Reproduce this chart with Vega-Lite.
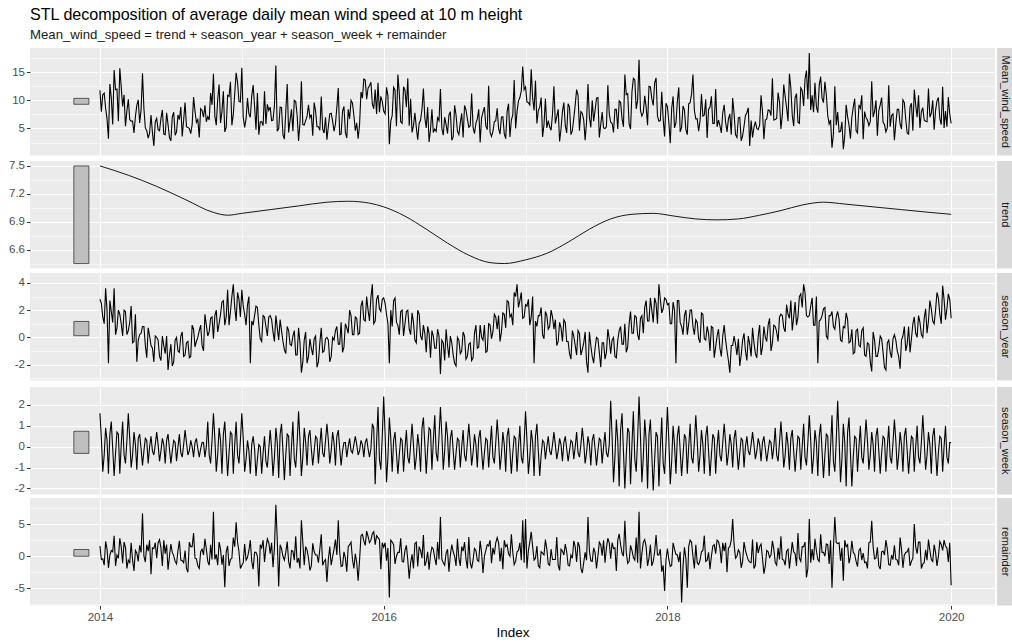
{
"$schema":"https://vega.github.io/schema/vega-lite/v6.json",
"padding":{"left":4,"right":0,"top":6,"bottom":0},
"title":{"text":"STL decomposition of average daily mean wind speed at 10 m height","subtitle":"Mean_wind_speed = trend + season_year + season_week + remainder","anchor":"start","frame":"group","fontSize":16.1,"fontWeight":"normal","subtitleFontSize":13.2,"color":"#000000","subtitleColor":"#1A1A1A","subtitlePadding":6,"offset":7,"font":"Liberation Sans","subtitleFont":"Liberation Sans"},
"datasets":{
"trend":[{"t":2014,"d":7.5},{"t":2014.2,"d":7.4},{"t":2014.4,"d":7.28},{"t":2014.6,"d":7.14},{"t":2014.8,"d":7.0},{"t":2014.9,"d":6.97},{"t":2015,"d":6.99},{"t":2015.2,"d":7.03},{"t":2015.4,"d":7.07},{"t":2015.6,"d":7.11},{"t":2015.75,"d":7.12},{"t":2015.9,"d":7.1},{"t":2016,"d":7.06},{"t":2016.15,"d":6.96},{"t":2016.3,"d":6.82},{"t":2016.45,"d":6.67},{"t":2016.6,"d":6.54},{"t":2016.75,"d":6.46},{"t":2016.85,"d":6.45},{"t":2017,"d":6.49},{"t":2017.15,"d":6.56},{"t":2017.3,"d":6.68},{"t":2017.45,"d":6.82},{"t":2017.6,"d":6.93},{"t":2017.75,"d":6.98},{"t":2017.9,"d":6.99},{"t":2018.05,"d":6.96},{"t":2018.2,"d":6.93},{"t":2018.35,"d":6.92},{"t":2018.5,"d":6.93},{"t":2018.65,"d":6.97},{"t":2018.8,"d":7.02},{"t":2018.95,"d":7.08},{"t":2019.1,"d":7.11},{"t":2019.25,"d":7.09},{"t":2019.45,"d":7.06},{"t":2019.65,"d":7.03},{"t":2019.85,"d":7.0},{"t":2020,"d":6.98}],
"ts":[
{"t":2014,"m":11.8,"s":2.8,"w":1.6,"r":1.6},{"t":2014.02,"m":11.0,"s":1.5,"w":-1.2,"r":-0.4},{"t":2014.04,"m":8.6,"s":3.6,"w":0.9,"r":2.3},{"t":2014.06,"m":3.2,"s":-1.9,"w":-1.3,"r":-1.8},{"t":2014.08,"m":10.4,"s":1.9,"w":1.2,"r":0.9},{"t":2014.1,"m":15.4,"s":3.6,"w":-1.4,"r":3.2},{"t":2014.12,"m":12.0,"s":0.7,"w":0.7,"r":0.2},{"t":2014.14,"m":15.7,"s":1.7,"w":-1.3,"r":2.8},{"t":2014.16,"m":8.9,"s":0.1,"w":1.2,"r":-1.1},{"t":2014.18,"m":5.4,"s":1.9,"w":-0.8,"r":1.4},
{"t":2014.2,"m":10.2,"s":0.5,"w":1.6,"r":-0.6},{"t":2014.22,"m":6.3,"s":2.3,"w":-1.0,"r":2.1},{"t":2014.24,"m":4.2,"s":-0.3,"w":0.7,"r":-2.3},{"t":2014.26,"m":9.1,"s":-1.8,"w":-1.1,"r":0.5},{"t":2014.28,"m":6.0,"s":0.2,"w":0.6,"r":1.7},{"t":2014.3,"m":14.8,"s":0.8,"w":-0.9,"r":6.7},{"t":2014.32,"m":5.1,"s":-0.6,"w":0.4,"r":-0.9},{"t":2014.34,"m":3.3,"s":0.7,"w":-0.8,"r":0.8},{"t":2014.36,"m":7.4,"s":-0.6,"w":0.5,"r":-2.8},{"t":2014.38,"m":1.9,"s":-1.8,"w":-0.4,"r":1.2},
{"t":2014.4,"m":6.8,"s":0.0,"w":0.7,"r":-0.3},{"t":2014.42,"m":4.6,"s":-1.4,"w":-0.7,"r":2.6},{"t":2014.44,"m":8.3,"s":0.1,"w":0.4,"r":-1.5},{"t":2014.46,"m":3.9,"s":-1.2,"w":-0.8,"r":0.4},{"t":2014.48,"m":5.7,"s":-2.4,"w":0.6,"r":-2.1},{"t":2014.5,"m":2.8,"s":-0.5,"w":-0.8,"r":1.9},{"t":2014.52,"m":7.9,"s":-1.8,"w":0.3,"r":0.1},{"t":2014.54,"m":4.4,"s":0.0,"w":-0.7,"r":-1.2},{"t":2014.56,"m":6.6,"s":-1.1,"w":0.6,"r":2.4},{"t":2014.58,"m":3.6,"s":0.4,"w":-0.5,"r":-0.7},
{"t":2014.6,"m":9.6,"s":-1.3,"w":0.8,"r":0.9},{"t":2014.62,"m":5.2,"s":-0.3,"w":-0.4,"r":-2.5},{"t":2014.64,"m":4.1,"s":-1.4,"w":0.3,"r":1.5},{"t":2014.66,"m":10.6,"s":0.6,"w":-0.5,"r":3.6},{"t":2014.68,"m":6.1,"s":-0.3,"w":0.4,"r":-0.4},{"t":2014.7,"m":3.4,"s":0.5,"w":-0.5,"r":-1.9},{"t":2014.72,"m":8.2,"s":-0.6,"w":0.2,"r":1.1},{"t":2014.74,"m":9.1,"s":1.7,"w":-0.5,"r":2.7},{"t":2014.76,"m":7.1,"s":0.1,"w":1.2,"r":-0.8},{"t":2014.78,"m":11.3,"s":1.4,"w":-0.8,"r":1.8},
{"t":2014.8,"m":14.7,"s":-0.1,"w":1.6,"r":6.9},{"t":2014.82,"m":5.6,"s":2.0,"w":-1.2,"r":0.3},{"t":2014.84,"m":12.8,"s":1.0,"w":0.9,"r":2.2},{"t":2014.86,"m":8.0,"s":2.6,"w":-1.3,"r":-1.3},{"t":2014.88,"m":4.4,"s":0.9,"w":1.2,"r":-4.8},{"t":2014.9,"m":10.9,"s":3.5,"w":-1.4,"r":1.6},{"t":2014.92,"m":13.3,"s":1.9,"w":0.7,"r":-0.5},{"t":2014.94,"m":7.5,"s":3.9,"w":-1.3,"r":2.9},{"t":2014.96,"m":14.9,"s":1.2,"w":1.2,"r":5.3},{"t":2014.98,"m":9.8,"s":2.8,"w":-0.8,"r":0.7},
{"t":2015,"m":15.8,"s":3.5,"w":1.6,"r":-1.4},{"t":2015.02,"m":5.2,"s":1.7,"w":-1.2,"r":1.9},{"t":2015.04,"m":10.4,"s":2.4,"w":0.3,"r":-0.2},{"t":2015.06,"m":7.0,"s":-1.9,"w":-1.3,"r":2.5},{"t":2015.08,"m":12.7,"s":0.9,"w":0.5,"r":-2.0},{"t":2015.1,"m":4.8,"s":2.3,"w":-1.4,"r":0.6},{"t":2015.12,"m":3.9,"s":0.9,"w":0.1,"r":-4.7},{"t":2015.14,"m":6.2,"s":-0.3,"w":-1.3,"r":1.3},{"t":2015.16,"m":11.6,"s":1.5,"w":0.5,"r":-0.9},{"t":2015.18,"m":9.3,"s":0.1,"w":-1.0,"r":2.7},
{"t":2015.2,"m":8.8,"s":1.6,"w":0.8,"r":0.4},{"t":2015.22,"m":6.5,"s":0.4,"w":-1.4,"r":-1.7},{"t":2015.24,"m":16.2,"s":1.6,"w":0.9,"r":8.0},{"t":2015.26,"m":5.0,"s":-0.2,"w":-1.5,"r":-4.7},{"t":2015.28,"m":8.7,"s":0.5,"w":1.1,"r":1.2},{"t":2015.3,"m":3.1,"s":-0.9,"w":-1.6,"r":-0.6},{"t":2015.32,"m":12.9,"s":0.8,"w":0.6,"r":2.3},{"t":2015.34,"m":6.4,"s":-0.5,"w":-1.4,"r":-1.9},{"t":2015.36,"m":4.5,"s":0.1,"w":1.2,"r":0.8},{"t":2015.38,"m":9.8,"s":-1.3,"w":-1.0,"r":3.1},
{"t":2015.4,"m":2.8,"s":0.7,"w":1.7,"r":-0.3},{"t":2015.42,"m":13.4,"s":-2.6,"w":-1.4,"r":5.6},{"t":2015.44,"m":5.6,"s":-0.2,"w":0.9,"r":-1.4},{"t":2015.46,"m":7.2,"s":-1.9,"w":-0.9,"r":1.0},{"t":2015.48,"m":6.9,"s":-0.1,"w":0.8,"r":-2.2},{"t":2015.5,"m":3.7,"s":-1.3,"w":-0.9,"r":2.0},{"t":2015.52,"m":8.1,"s":0.1,"w":0.5,"r":0.2},{"t":2015.54,"m":5.3,"s":-1.8,"w":-0.8,"r":-1.0},{"t":2015.56,"m":10.7,"s":0.7,"w":0.9,"r":3.4},{"t":2015.58,"m":4.2,"s":-1.0,"w":-0.5,"r":-0.8},
{"t":2015.6,"m":3.0,"s":0.0,"w":1.1,"r":-4.0},{"t":2015.62,"m":7.6,"s":-1.8,"w":-0.8,"r":1.5},{"t":2015.64,"m":6.3,"s":0.0,"w":0.7,"r":-0.1},{"t":2015.66,"m":5.8,"s":0.5,"w":-0.9,"r":2.6},{"t":2015.68,"m":12.2,"s":-0.5,"w":0.8,"r":5.6},{"t":2015.7,"m":4.0,"s":1.1,"w":-0.9,"r":-1.6},{"t":2015.72,"m":8.9,"s":-0.7,"w":0.2,"r":0.7},{"t":2015.74,"m":3.3,"s":0.7,"w":-0.5,"r":-2.4},{"t":2015.76,"m":6.7,"s":2.0,"w":0.4,"r":1.8},{"t":2015.78,"m":9.5,"s":0.2,"w":-0.3,"r":-0.5},
{"t":2015.8,"m":4.6,"s":1.5,"w":0.5,"r":0.4},{"t":2015.82,"m":3.2,"s":0.2,"w":-0.4,"r":-3.8},{"t":2015.84,"m":11.5,"s":2.3,"w":0.3,"r":3.2},{"t":2015.86,"m":13.8,"s":1.3,"w":-0.5,"r":2.4},{"t":2015.88,"m":10.2,"s":3.0,"w":0.4,"r":3.9},{"t":2015.9,"m":12.6,"s":1.2,"w":-0.5,"r":2.1},{"t":2015.92,"m":9.4,"s":3.9,"w":1.1,"r":3.5},{"t":2015.94,"m":11.9,"s":1.2,"w":-1.8,"r":1.8},{"t":2015.96,"m":13.1,"s":3.1,"w":1.9,"r":2.9},{"t":2015.98,"m":10.7,"s":1.9,"w":-1.1,"r":-2.0},
{"t":2016,"m":8.1,"s":2.9,"w":2.4,"r":1.4},{"t":2016.02,"m":12.3,"s":1.7,"w":-1.7,"r":-0.7},{"t":2016.04,"m":2.2,"s":-1.9,"w":1.4,"r":-6.4},{"t":2016.06,"m":7.3,"s":0.8,"w":-1.2,"r":2.2},{"t":2016.08,"m":11.8,"s":2.9,"w":0.7,"r":-1.2},{"t":2016.1,"m":14.6,"s":0.9,"w":-1.3,"r":0.6},{"t":2016.12,"m":6.2,"s":1.9,"w":0.4,"r":2.8},{"t":2016.14,"m":12.4,"s":0.1,"w":-1.2,"r":-0.9},{"t":2016.16,"m":8.8,"s":1.9,"w":0.8,"r":1.7},{"t":2016.18,"m":5.5,"s":0.6,"w":-0.8,"r":-3.5},
{"t":2016.2,"m":4.3,"s":1.8,"w":1.1,"r":0.3},{"t":2016.22,"m":7.8,"s":-0.2,"w":-1.1,"r":2.0},{"t":2016.24,"m":3.0,"s":2.0,"w":0.6,"r":-1.6},{"t":2016.26,"m":6.5,"s":0.1,"w":-1.2,"r":0.9},{"t":2016.28,"m":12.1,"s":0.9,"w":1.4,"r":3.3},{"t":2016.3,"m":5.1,"s":-1.1,"w":-1.3,"r":-0.8},{"t":2016.32,"m":2.6,"s":0.3,"w":0.9,"r":-2.1},{"t":2016.34,"m":8.4,"s":0.5,"w":-1.1,"r":1.4},{"t":2016.36,"m":4.9,"s":-0.8,"w":1.5,"r":-0.3},{"t":2016.38,"m":6.9,"s":0.6,"w":-0.7,"r":2.2},
{"t":2016.4,"m":12.0,"s":-2.7,"w":1.9,"r":6.1},{"t":2016.42,"m":3.8,"s":-0.4,"w":-1.1,"r":-1.0},{"t":2016.44,"m":5.7,"s":0.6,"w":1.2,"r":0.5},{"t":2016.46,"m":7.4,"s":-1.5,"w":-1.0,"r":-2.4},{"t":2016.48,"m":2.9,"s":-0.4,"w":0.8,"r":1.8},{"t":2016.5,"m":9.1,"s":-1.9,"w":-1.1,"r":0.0},{"t":2016.52,"m":4.5,"s":0.0,"w":0.4,"r":2.7},{"t":2016.54,"m":6.0,"s":-1.2,"w":-1.0,"r":-1.5},{"t":2016.56,"m":3.4,"s":0.4,"w":0.8,"r":0.8},{"t":2016.58,"m":8.3,"s":-1.6,"w":-0.7,"r":-0.4},
{"t":2016.6,"m":5.2,"s":-0.5,"w":1.1,"r":3.0},{"t":2016.62,"m":11.2,"s":-1.7,"w":-0.9,"r":-1.9},{"t":2016.64,"m":4.1,"s":0.3,"w":0.6,"r":1.2},{"t":2016.66,"m":6.7,"s":-0.8,"w":-1.0,"r":-0.6},{"t":2016.68,"m":2.5,"s":0.9,"w":0.8,"r":2.4},{"t":2016.7,"m":7.9,"s":-0.2,"w":-1.1,"r":-2.6},{"t":2016.72,"m":5.4,"s":-1.1,"w":0.4,"r":0.9},{"t":2016.74,"m":12.6,"s":1.0,"w":-1.0,"r":1.6},{"t":2016.76,"m":3.6,"s":-0.1,"w":1.0,"r":-1.1},{"t":2016.78,"m":6.2,"s":1.7,"w":-0.8,"r":0.3},
{"t":2016.8,"m":8.6,"s":0.6,"w":1.3,"r":2.9},{"t":2016.82,"m":4.0,"s":-0.3,"w":-1.1,"r":-0.8},{"t":2016.84,"m":7.1,"s":1.8,"w":0.7,"r":-2.0},{"t":2016.86,"m":3.2,"s":0.7,"w":-1.2,"r":1.5},{"t":2016.88,"m":9.4,"s":2.6,"w":0.9,"r":0.4},{"t":2016.9,"m":6.5,"s":1.7,"w":-1.3,"r":3.4},{"t":2016.92,"m":13.6,"s":3.3,"w":0.5,"r":-1.3},{"t":2016.94,"m":8.0,"s":3.9,"w":-1.2,"r":0.7},{"t":2016.96,"m":10.5,"s":2.7,"w":1.0,"r":2.1},{"t":2016.98,"m":16.0,"s":1.4,"w":-0.8,"r":5.6},
{"t":2017,"m":12.4,"s":2.4,"w":1.7,"r":5.8},{"t":2017.02,"m":9.6,"s":2.8,"w":-1.3,"r":0.9},{"t":2017.04,"m":15.5,"s":1.5,"w":0.8,"r":3.8},{"t":2017.06,"m":8.2,"s":-1.9,"w":-1.4,"r":-0.6},{"t":2017.08,"m":5.9,"s":0.8,"w":1.1,"r":1.6},{"t":2017.1,"m":8.8,"s":1.6,"w":-1.4,"r":-1.8},{"t":2017.12,"m":3.5,"s":0.2,"w":0.3,"r":0.5},{"t":2017.14,"m":10.3,"s":1.9,"w":-0.6,"r":2.6},{"t":2017.16,"m":6.4,"s":0.6,"w":0.5,"r":-1.2},{"t":2017.18,"m":4.7,"s":2.0,"w":-0.4,"r":1.1},
{"t":2017.2,"m":12.5,"s":0.6,"w":0.7,"r":-0.5},{"t":2017.22,"m":7.1,"s":-0.6,"w":-0.6,"r":3.0},{"t":2017.24,"m":2.7,"s":1.1,"w":0.4,"r":-2.2},{"t":2017.26,"m":8.0,"s":-0.3,"w":-0.7,"r":0.8},{"t":2017.28,"m":5.5,"s":1.1,"w":0.5,"r":1.9},{"t":2017.3,"m":9.4,"s":-0.3,"w":-0.7,"r":-1.4},{"t":2017.32,"m":3.9,"s":-1.6,"w":0.3,"r":0.2},{"t":2017.34,"m":6.8,"s":0.1,"w":-0.6,"r":2.4},{"t":2017.36,"m":11.9,"s":-1.3,"w":0.7,"r":-0.9},{"t":2017.38,"m":4.6,"s":0.3,"w":-0.5,"r":1.5},
{"t":2017.4,"m":7.7,"s":-0.9,"w":0.9,"r":-2.6},{"t":2017.42,"m":2.9,"s":0.4,"w":-0.8,"r":0.6},{"t":2017.44,"m":12.9,"s":-2.6,"w":0.5,"r":6.1},{"t":2017.46,"m":5.2,"s":-0.6,"w":-0.9,"r":-0.7},{"t":2017.48,"m":6.3,"s":-1.9,"w":0.6,"r":1.3},{"t":2017.5,"m":10.4,"s":0.0,"w":-0.9,"r":-1.9},{"t":2017.52,"m":3.4,"s":-1.1,"w":0.4,"r":2.2},{"t":2017.54,"m":7.9,"s":-0.4,"w":-0.8,"r":0.1},{"t":2017.56,"m":5.0,"s":-1.6,"w":0.7,"r":-1.0},{"t":2017.58,"m":12.7,"s":0.6,"w":-0.5,"r":2.8},
{"t":2017.6,"m":6.1,"s":-1.2,"w":2.2,"r":-0.4},{"t":2017.62,"m":4.3,"s":0.0,"w":-1.7,"r":1.2},{"t":2017.64,"m":8.4,"s":-1.5,"w":1.3,"r":-2.3},{"t":2017.66,"m":9.9,"s":0.5,"w":-1.9,"r":3.5},{"t":2017.68,"m":6.8,"s":-0.5,"w":1.6,"r":0.5},{"t":2017.7,"m":14.6,"s":1.0,"w":-2.0,"r":5.5},{"t":2017.72,"m":11.2,"s":-0.7,"w":0.9,"r":-1.1},{"t":2017.74,"m":4.9,"s":1.9,"w":-1.8,"r":1.7},{"t":2017.76,"m":13.9,"s":0.3,"w":1.7,"r":-0.2},{"t":2017.78,"m":8.5,"s":1.5,"w":-1.2,"r":2.9},
{"t":2017.8,"m":17.2,"s":-0.2,"w":2.4,"r":6.9},{"t":2017.82,"m":7.2,"s":1.6,"w":-1.7,"r":0.4},{"t":2017.84,"m":10.8,"s":2.2,"w":1.3,"r":2.6},{"t":2017.86,"m":5.6,"s":1.2,"w":-2.0,"r":-1.5},{"t":2017.88,"m":12.4,"s":2.9,"w":1.3,"r":1.8},{"t":2017.9,"m":9.1,"s":1.1,"w":-2.1,"r":-0.8},{"t":2017.92,"m":14.0,"s":2.5,"w":0.7,"r":3.3},{"t":2017.94,"m":6.3,"s":3.9,"w":-1.9,"r":0.2},{"t":2017.96,"m":11.5,"s":1.8,"w":1.4,"r":-2.4},{"t":2017.98,"m":3.6,"s":2.9,"w":-1.3,"r":-5.4},
{"t":2018,"m":8.9,"s":2.4,"w":1.9,"r":1.2},{"t":2018.02,"m":2.4,"s":1.0,"w":-1.8,"r":-1.6},{"t":2018.04,"m":10.7,"s":2.6,"w":1.0,"r":2.1},{"t":2018.06,"m":6.0,"s":-1.9,"w":-1.3,"r":0.3},{"t":2018.08,"m":12.3,"s":2.7,"w":1.0,"r":-0.9},{"t":2018.1,"m":5.2,"s":0.8,"w":-1.4,"r":-7.2},{"t":2018.12,"m":8.3,"s":1.6,"w":0.6,"r":1.4},{"t":2018.14,"m":3.9,"s":0.2,"w":-1.3,"r":-4.9},{"t":2018.16,"m":9.6,"s":2.0,"w":1.1,"r":2.5},{"t":2018.18,"m":14.6,"s":0.8,"w":-0.8,"r":0.0},
{"t":2018.2,"m":6.7,"s":1.3,"w":1.5,"r":1.8},{"t":2018.22,"m":4.5,"s":-0.1,"w":-1.2,"r":-1.3},{"t":2018.24,"m":11.1,"s":1.8,"w":0.8,"r":0.7},{"t":2018.26,"m":7.4,"s":-0.1,"w":-1.3,"r":3.2},{"t":2018.28,"m":3.3,"s":0.8,"w":1.0,"r":-0.6},{"t":2018.3,"m":8.8,"s":-1.0,"w":-1.4,"r":-2.0},{"t":2018.32,"m":5.9,"s":0.7,"w":0.6,"r":1.6},{"t":2018.34,"m":12.0,"s":-0.7,"w":-1.3,"r":0.4},{"t":2018.36,"m":6.5,"s":0.6,"w":0.8,"r":2.3},{"t":2018.38,"m":4.2,"s":-1.4,"w":-0.7,"r":-1.1},
{"t":2018.4,"m":9.2,"s":0.9,"w":1.1,"r":0.8},{"t":2018.42,"m":4.4,"s":-1.0,"w":-0.9,"r":-2.5},{"t":2018.44,"m":7.6,"s":-2.6,"w":0.6,"r":1.5},{"t":2018.46,"m":10.4,"s":-0.6,"w":-1.0,"r":5.8},{"t":2018.48,"m":3.9,"s":-0.5,"w":0.8,"r":-0.3},{"t":2018.5,"m":6.9,"s":-0.1,"w":-1.1,"r":1.0},{"t":2018.52,"m":2.8,"s":-1.3,"w":0.4,"r":-1.8},{"t":2018.54,"m":5.4,"s":0.3,"w":-1.0,"r":2.2},{"t":2018.56,"m":7.8,"s":-1.7,"w":0.5,"r":0.1},{"t":2018.58,"m":1.9,"s":-0.5,"w":-0.4,"r":-0.9},
{"t":2018.6,"m":3.4,"s":0.7,"w":0.7,"r":2.6},{"t":2018.62,"m":6.2,"s":-1.2,"w":-0.6,"r":-1.4},{"t":2018.64,"m":4.8,"s":0.1,"w":0.4,"r":0.5},{"t":2018.66,"m":10.9,"s":-1.3,"w":-0.7,"r":1.9},{"t":2018.68,"m":3.1,"s":0.8,"w":0.5,"r":-2.7},{"t":2018.7,"m":6.7,"s":-0.3,"w":-0.7,"r":0.9},{"t":2018.72,"m":8.2,"s":1.4,"w":0.3,"r":-0.2},{"t":2018.74,"m":13.9,"s":-0.4,"w":-0.6,"r":2.4},{"t":2018.76,"m":6.6,"s":0.8,"w":0.9,"r":-1.0},{"t":2018.78,"m":11.4,"s":-0.3,"w":-0.7,"r":1.3},
{"t":2018.8,"m":4.9,"s":1.7,"w":1.2,"r":3.1},{"t":2018.82,"m":12.8,"s":0.7,"w":-1.0,"r":-0.6},{"t":2018.84,"m":8.7,"s":2.4,"w":0.7,"r":0.8},{"t":2018.86,"m":14.7,"s":1.4,"w":-1.1,"r":-1.9},{"t":2018.88,"m":7.3,"s":0.5,"w":0.8,"r":2.2},{"t":2018.9,"m":10.5,"s":2.6,"w":-1.2,"r":0.4},{"t":2018.92,"m":6.1,"s":1.5,"w":0.5,"r":3.6},{"t":2018.94,"m":12.2,"s":3.2,"w":-1.1,"r":-0.8},{"t":2018.96,"m":9.0,"s":3.9,"w":1.1,"r":1.5},{"t":2018.98,"m":15.3,"s":1.6,"w":-0.9,"r":-3.3},
{"t":2019,"m":18.4,"s":1.6,"w":1.5,"r":5.8},{"t":2019.02,"m":10.9,"s":2.9,"w":-1.3,"r":1.1},{"t":2019.04,"m":13.1,"s":0.9,"w":0.8,"r":2.7},{"t":2019.06,"m":7.8,"s":-1.9,"w":-1.4,"r":-0.5},{"t":2019.08,"m":14.2,"s":1.3,"w":1.1,"r":3.4},{"t":2019.1,"m":9.6,"s":2.1,"w":-1.5,"r":0.6},{"t":2019.12,"m":11.0,"s":0.1,"w":0.6,"r":1.9},{"t":2019.14,"m":5.8,"s":1.6,"w":-1.4,"r":-1.2},{"t":2019.16,"m":1.6,"s":1.9,"w":1.5,"r":-4.9},{"t":2019.18,"m":12.5,"s":0.6,"w":-1.2,"r":6.1},
{"t":2019.2,"m":7.9,"s":1.9,"w":2.2,"r":2.0},{"t":2019.22,"m":4.5,"s":-0.2,"w":-1.7,"r":-0.7},{"t":2019.24,"m":1.3,"s":0.8,"w":1.1,"r":-3.8},{"t":2019.26,"m":9.2,"s":1.8,"w":-1.9,"r":1.5},{"t":2019.28,"m":5.6,"s":-0.4,"w":1.4,"r":-1.1},{"t":2019.3,"m":7.0,"s":0.6,"w":-1.9,"r":2.4},{"t":2019.32,"m":10.3,"s":-1.1,"w":0.5,"r":0.3},{"t":2019.34,"m":4.2,"s":0.6,"w":-1.2,"r":-1.6},{"t":2019.36,"m":8.6,"s":-0.7,"w":1.0,"r":1.2},{"t":2019.38,"m":3.1,"s":0.7,"w":-0.8,"r":0.5},
{"t":2019.4,"m":6.9,"s":-1.4,"w":1.3,"r":-0.9},{"t":2019.42,"m":5.5,"s":-0.5,"w":-1.1,"r":2.1},{"t":2019.44,"m":13.4,"s":-2.5,"w":0.7,"r":5.5},{"t":2019.46,"m":8.0,"s":-0.2,"w":-1.2,"r":-0.4},{"t":2019.48,"m":3.7,"s":-1.4,"w":0.9,"r":1.4},{"t":2019.5,"m":9.2,"s":0.1,"w":-1.3,"r":-2.0},{"t":2019.52,"m":6.1,"s":-1.1,"w":0.5,"r":0.8},{"t":2019.54,"m":4.4,"s":-2.4,"w":-1.2,"r":2.5},{"t":2019.56,"m":12.7,"s":-0.2,"w":1.0,"r":-1.3},{"t":2019.58,"m":7.3,"s":-1.5,"w":-0.8,"r":0.2},
{"t":2019.6,"m":2.9,"s":0.2,"w":1.3,"r":1.7},{"t":2019.62,"m":8.4,"s":-1.0,"w":-1.1,"r":-0.6},{"t":2019.64,"m":5.8,"s":-2.3,"w":0.7,"r":2.9},{"t":2019.66,"m":10.1,"s":0.1,"w":-1.2,"r":-1.8},{"t":2019.68,"m":6.6,"s":-1.0,"w":0.9,"r":0.6},{"t":2019.7,"m":4.0,"s":0.8,"w":-1.3,"r":1.3},{"t":2019.72,"m":9.5,"s":-0.1,"w":0.5,"r":-0.8},{"t":2019.74,"m":11.9,"s":1.5,"w":-1.2,"r":5.0},{"t":2019.76,"m":7.0,"s":0.0,"w":1.0,"r":0.4},{"t":2019.78,"m":5.1,"s":1.1,"w":-0.8,"r":2.2},
{"t":2019.8,"m":8.7,"s":0.0,"w":1.5,"r":-1.2},{"t":2019.82,"m":6.3,"s":2.1,"w":-1.1,"r":1.0},{"t":2019.84,"m":12.1,"s":1.2,"w":0.7,"r":2.6},{"t":2019.86,"m":7.7,"s":2.1,"w":-1.3,"r":-0.5},{"t":2019.88,"m":4.8,"s":1.0,"w":0.9,"r":1.8},{"t":2019.9,"m":9.9,"s":3.3,"w":-1.4,"r":-1.5},{"t":2019.92,"m":6.8,"s":1.7,"w":0.5,"r":2.3},{"t":2019.94,"m":12.4,"s":3.8,"w":-1.2,"r":0.9},{"t":2019.96,"m":8.1,"s":1.3,"w":1.0,"r":1.6},{"t":2019.98,"m":10.6,"s":3.2,"w":-0.8,"r":-0.9},
{"t":2020,"m":5.9,"s":1.4,"w":0.2,"r":-4.5},
{"t":2014.01,"m":8.0,"s":2.5,"w":0.4,"r":-0.5},{"t":2014.03,"m":11.3,"s":1.0,"w":-0.4,"r":-1.4},{"t":2014.05,"m":6.7,"s":2.0,"w":0.3,"r":1.1},{"t":2014.07,"m":12.9,"s":2.7,"w":0.6,"r":0.2},{"t":2014.09,"m":5.7,"s":1.1,"w":-0.1,"r":0.7},{"t":2014.11,"m":11.9,"s":0.2,"w":-0.3,"r":-1.5},{"t":2014.13,"m":6.3,"s":2.0,"w":0.6,"r":-0.3},{"t":2014.15,"m":12.4,"s":1.0,"w":0.1,"r":1.5},{"t":2014.17,"m":11.0,"s":2.0,"w":-0.4,"r":2.2},{"t":2014.19,"m":8.1,"s":0.2,"w":0.3,"r":-1.9},
{"t":2014.21,"m":6.6,"s":1.1,"w":0.4,"r":-1.0},{"t":2014.23,"m":6.3,"s":-0.4,"w":-0.4,"r":-0.6},{"t":2014.25,"m":7.1,"s":1.7,"w":0.1,"r":0.9},{"t":2014.27,"m":10.1,"s":-0.2,"w":0.4,"r":-0.8},{"t":2014.29,"m":8.3,"s":0.3,"w":-0.1,"r":0.6},{"t":2014.31,"m":8.5,"s":0.8,"w":-0.2,"r":0.0},{"t":2014.33,"m":4.6,"s":-1.5,"w":0.3,"r":1.8},{"t":2014.35,"m":4.2,"s":0.1,"w":0.0,"r":2.5},{"t":2014.37,"m":4.3,"s":-0.8,"w":-0.2,"r":1.3},{"t":2014.39,"m":6.2,"s":0.1,"w":0.1,"r":2.1},
{"t":2014.41,"m":4.8,"s":-0.2,"w":0.1,"r":2.1},{"t":2014.43,"m":6.8,"s":-1.7,"w":-0.2,"r":1.3},{"t":2014.45,"m":4.0,"s":-0.6,"w":0.1,"r":2.5},{"t":2014.47,"m":7.8,"s":0.1,"w":0.3,"r":1.8},{"t":2014.49,"m":3.4,"s":-1.3,"w":-0.1,"r":0.0},{"t":2014.51,"m":7.1,"s":-2.1,"w":-0.2,"r":0.6},{"t":2014.53,"m":3.8,"s":-0.2,"w":0.2,"r":-0.8},{"t":2014.55,"m":7.4,"s":-1.0,"w":0.0,"r":0.9},{"t":2014.57,"m":8.8,"s":0.1,"w":-0.3,"r":-0.6},{"t":2014.59,"m":6.5,"s":-1.4,"w":0.1,"r":-1.0},
{"t":2014.61,"m":5.3,"s":-0.4,"w":0.2,"r":-1.9},{"t":2014.63,"m":5.0,"s":-1.5,"w":-0.2,"r":2.2},{"t":2014.65,"m":5.7,"s":0.9,"w":0.0,"r":1.5},{"t":2014.67,"m":8.1,"s":-0.7,"w":0.2,"r":-0.3},{"t":2014.69,"m":6.6,"s":0.0,"w":-0.1,"r":-1.5},{"t":2014.71,"m":8.5,"s":0.9,"w":-0.1,"r":0.7},{"t":2014.73,"m":7.0,"s":-1.0,"w":0.2,"r":0.2},{"t":2014.75,"m":6.2,"s":0.9,"w":0.0,"r":1.1},{"t":2014.77,"m":6.5,"s":0.4,"w":-0.4,"r":-1.4},{"t":2014.79,"m":9.2,"s":1.5,"w":0.3,"r":-0.5},
{"t":2014.81,"m":7.2,"s":1.6,"w":0.4,"r":-0.5},{"t":2014.83,"m":10.2,"s":0.4,"w":-0.4,"r":-1.4},{"t":2014.85,"m":6.0,"s":1.7,"w":0.3,"r":1.1},{"t":2014.87,"m":11.6,"s":2.7,"w":0.6,"r":0.2},{"t":2014.89,"m":5.2,"s":1.5,"w":-0.1,"r":0.7},{"t":2014.91,"m":10.7,"s":0.9,"w":-0.3,"r":-1.5},{"t":2014.93,"m":5.6,"s":3.0,"w":0.6,"r":-0.3},{"t":2014.95,"m":11.2,"s":2.2,"w":0.1,"r":1.5},{"t":2014.97,"m":13.2,"s":3.3,"w":-0.4,"r":2.2},{"t":2014.99,"m":9.7,"s":1.5,"w":0.3,"r":-1.9},
{"t":2015.01,"m":7.0,"s":2.3,"w":0.4,"r":-1.0},{"t":2015.03,"m":6.7,"s":0.9,"w":-0.6,"r":-0.6},{"t":2015.05,"m":7.6,"s":3.0,"w":-0.2,"r":0.9},{"t":2015.07,"m":10.8,"s":1.2,"w":0.1,"r":-0.8},{"t":2015.09,"m":8.9,"s":1.6,"w":-0.1,"r":0.6},{"t":2015.11,"m":11.3,"s":2.2,"w":-0.6,"r":0.0},{"t":2015.13,"m":6.2,"s":-0.1,"w":0.0,"r":1.8},{"t":2015.15,"m":5.5,"s":1.6,"w":-0.3,"r":2.5},{"t":2015.17,"m":5.8,"s":0.8,"w":-0.7,"r":1.3},{"t":2015.19,"m":8.2,"s":1.5,"w":-0.1,"r":2.1},
{"t":2015.21,"m":6.4,"s":1.3,"w":-0.1,"r":2.1},{"t":2015.23,"m":9.1,"s":-0.3,"w":-0.5,"r":1.3},{"t":2015.25,"m":4.5,"s":0.7,"w":0.2,"r":2.5},{"t":2015.27,"m":8.8,"s":1.3,"w":0.6,"r":1.8},{"t":2015.29,"m":3.9,"s":-0.3,"w":-0.2,"r":0.0},{"t":2015.31,"m":8.1,"s":-1.2,"w":-0.4,"r":0.6},{"t":2015.33,"m":4.3,"s":0.5,"w":0.5,"r":-0.8},{"t":2015.35,"m":8.4,"s":-0.6,"w":0.0,"r":0.9},{"t":2015.37,"m":10.0,"s":0.5,"w":-0.6,"r":-0.6},{"t":2015.39,"m":7.3,"s":-1.3,"w":0.2,"r":-1.0},
{"t":2015.41,"m":6.0,"s":-0.4,"w":0.3,"r":-1.9},{"t":2015.43,"m":5.7,"s":-1.8,"w":-0.5,"r":2.2},{"t":2015.45,"m":6.4,"s":0.4,"w":0.2,"r":1.5},{"t":2015.47,"m":9.2,"s":-1.4,"w":0.5,"r":-0.3},{"t":2015.49,"m":7.5,"s":-0.8,"w":-0.1,"r":-1.5},{"t":2015.51,"m":9.6,"s":-0.1,"w":-0.2,"r":0.7},{"t":2015.53,"m":5.3,"s":-2.2,"w":0.4,"r":0.2},{"t":2015.55,"m":4.7,"s":-0.4,"w":0.1,"r":1.1},{"t":2015.57,"m":4.9,"s":-1.1,"w":-0.3,"r":-1.4},{"t":2015.59,"m":7.0,"s":-0.1,"w":0.3,"r":-0.5},
{"t":2015.61,"m":5.4,"s":-0.2,"w":0.3,"r":-0.5},{"t":2015.63,"m":7.7,"s":-1.4,"w":-0.2,"r":-1.4},{"t":2015.65,"m":4.5,"s":-0.2,"w":0.2,"r":1.1},{"t":2015.67,"m":8.8,"s":0.8,"w":0.5,"r":0.2},{"t":2015.69,"m":3.9,"s":-0.5,"w":-0.1,"r":0.7},{"t":2015.71,"m":8.1,"s":-1.1,"w":-0.2,"r":-1.5},{"t":2015.73,"m":4.3,"s":1.0,"w":0.2,"r":-0.3},{"t":2015.75,"m":8.4,"s":0.3,"w":0.0,"r":1.5},{"t":2015.77,"m":10.0,"s":1.6,"w":-0.2,"r":2.2},{"t":2015.79,"m":7.3,"s":0.2,"w":0.1,"r":-1.9},
{"t":2015.81,"m":6.0,"s":1.4,"w":0.1,"r":-1.0},{"t":2015.83,"m":5.7,"s":0.3,"w":-0.2,"r":-0.6},{"t":2015.85,"m":10.4,"s":2.7,"w":0.1,"r":3.4},{"t":2015.87,"m":13.6,"s":1.2,"w":0.2,"r":1.7},{"t":2015.89,"m":12.2,"s":2.0,"w":-0.1,"r":3.1},{"t":2015.91,"m":13.2,"s":2.9,"w":-0.1,"r":2.5},{"t":2015.93,"m":8.5,"s":1.0,"w":0.9,"r":3.8},{"t":2015.95,"m":7.6,"s":2.8,"w":0.2,"r":3.2},{"t":2015.97,"m":7.9,"s":2.1,"w":-0.6,"r":2.6},{"t":2015.99,"m":9.8,"s":2.8,"w":0.5,"r":2.1},
{"t":2016.01,"m":7.6,"s":2.5,"w":0.6,"r":2.1},{"t":2016.03,"m":10.8,"s":1.0,"w":-0.5,"r":1.3},{"t":2016.05,"m":6.3,"s":2.0,"w":0.4,"r":2.5},{"t":2016.07,"m":12.3,"s":2.7,"w":0.3,"r":1.8},{"t":2016.09,"m":5.4,"s":1.1,"w":-0.3,"r":0.0},{"t":2016.11,"m":11.3,"s":0.2,"w":-0.4,"r":0.6},{"t":2016.13,"m":5.9,"s":2.0,"w":0.3,"r":-0.8},{"t":2016.15,"m":11.8,"s":1.0,"w":-0.1,"r":0.9},{"t":2016.17,"m":13.9,"s":2.0,"w":-0.5,"r":-0.6},{"t":2016.19,"m":10.3,"s":0.2,"w":0.1,"r":-1.0},
{"t":2016.21,"m":5.5,"s":1.1,"w":0.1,"r":-1.9},{"t":2016.23,"m":5.2,"s":-0.4,"w":-0.5,"r":2.2},{"t":2016.25,"m":5.9,"s":1.7,"w":0.0,"r":1.5},{"t":2016.27,"m":8.4,"s":-0.2,"w":0.9,"r":-0.3},{"t":2016.29,"m":6.9,"s":0.3,"w":0.1,"r":-1.5},{"t":2016.31,"m":8.8,"s":0.8,"w":-0.1,"r":0.7},{"t":2016.33,"m":4.8,"s":-1.5,"w":0.8,"r":0.2},{"t":2016.35,"m":4.3,"s":0.1,"w":0.3,"r":1.1},{"t":2016.37,"m":4.5,"s":-0.8,"w":-0.3,"r":-1.4},{"t":2016.39,"m":6.4,"s":0.1,"w":0.5,"r":-0.5},
{"t":2016.41,"m":5.0,"s":-0.2,"w":0.6,"r":-0.5},{"t":2016.43,"m":7.0,"s":-1.7,"w":-0.2,"r":-1.4},{"t":2016.45,"m":4.1,"s":-0.6,"w":0.5,"r":1.1},{"t":2016.47,"m":8.0,"s":0.1,"w":0.4,"r":0.2},{"t":2016.49,"m":3.5,"s":-1.3,"w":-0.2,"r":0.7},{"t":2016.51,"m":7.4,"s":-2.1,"w":-0.3,"r":-1.5},{"t":2016.53,"m":3.9,"s":-0.2,"w":0.3,"r":-0.3},{"t":2016.55,"m":7.7,"s":-1.0,"w":0.0,"r":1.5},{"t":2016.57,"m":9.1,"s":0.1,"w":-0.4,"r":2.2},{"t":2016.59,"m":6.7,"s":-1.4,"w":0.2,"r":-1.9},
{"t":2016.61,"m":5.5,"s":-0.4,"w":0.2,"r":-1.0},{"t":2016.63,"m":5.2,"s":-1.5,"w":-0.3,"r":-0.6},{"t":2016.65,"m":5.9,"s":0.9,"w":0.1,"r":0.9},{"t":2016.67,"m":8.4,"s":-0.7,"w":0.4,"r":-0.8},{"t":2016.69,"m":6.9,"s":0.0,"w":-0.2,"r":0.6},{"t":2016.71,"m":8.8,"s":0.9,"w":-0.3,"r":0.0},{"t":2016.73,"m":4.8,"s":-1.0,"w":0.3,"r":1.8},{"t":2016.75,"m":4.3,"s":0.9,"w":0.0,"r":2.5},{"t":2016.77,"m":4.5,"s":0.4,"w":-0.5,"r":1.3},{"t":2016.79,"m":6.4,"s":1.5,"w":0.2,"r":2.1},
{"t":2016.81,"m":5.0,"s":1.6,"w":0.3,"r":2.1},{"t":2016.83,"m":7.0,"s":0.4,"w":-0.4,"r":1.3},{"t":2016.85,"m":4.1,"s":1.7,"w":0.1,"r":2.5},{"t":2016.87,"m":8.0,"s":2.7,"w":0.5,"r":1.8},{"t":2016.89,"m":3.5,"s":1.5,"w":-0.2,"r":0.0},{"t":2016.91,"m":7.4,"s":0.9,"w":-0.3,"r":0.6},{"t":2016.93,"m":5.0,"s":3.0,"w":0.4,"r":-0.8},{"t":2016.95,"m":9.9,"s":2.2,"w":0.0,"r":0.9},{"t":2016.97,"m":11.7,"s":3.3,"w":-0.5,"r":-0.6},{"t":2016.99,"m":11.9,"s":1.5,"w":0.2,"r":-1.0},
{"t":2017.01,"m":9.7,"s":2.3,"w":0.3,"r":-1.9},{"t":2017.03,"m":9.2,"s":0.9,"w":-0.5,"r":2.2},{"t":2017.05,"m":10.4,"s":3.0,"w":0.2,"r":1.5},{"t":2017.07,"m":13.5,"s":1.2,"w":0.5,"r":-0.3},{"t":2017.09,"m":8.2,"s":1.6,"w":-0.2,"r":-1.5},{"t":2017.11,"m":10.5,"s":2.2,"w":-0.4,"r":0.7},{"t":2017.13,"m":5.7,"s":-0.1,"w":0.2,"r":0.2},{"t":2017.15,"m":5.1,"s":1.6,"w":0.0,"r":1.1},{"t":2017.17,"m":5.3,"s":0.8,"w":-0.2,"r":-1.4},{"t":2017.19,"m":7.6,"s":1.5,"w":0.1,"r":-0.5},
{"t":2017.21,"m":5.9,"s":1.3,"w":0.1,"r":-0.5},{"t":2017.23,"m":8.4,"s":-0.3,"w":-0.2,"r":-1.4},{"t":2017.25,"m":4.9,"s":0.7,"w":0.1,"r":1.1},{"t":2017.27,"m":9.6,"s":1.3,"w":0.2,"r":0.2},{"t":2017.29,"m":4.2,"s":-0.3,"w":-0.1,"r":0.7},{"t":2017.31,"m":8.8,"s":-1.2,"w":-0.2,"r":-1.5},{"t":2017.33,"m":4.6,"s":0.5,"w":0.2,"r":-0.3},{"t":2017.35,"m":9.2,"s":-0.6,"w":0.0,"r":1.5},{"t":2017.37,"m":10.9,"s":0.5,"w":-0.3,"r":2.2},{"t":2017.39,"m":8.0,"s":-1.3,"w":0.1,"r":-1.9},
{"t":2017.41,"m":6.5,"s":-0.4,"w":0.2,"r":-1.0},{"t":2017.43,"m":6.2,"s":-1.8,"w":-0.3,"r":-0.6},{"t":2017.45,"m":7.0,"s":0.4,"w":0.1,"r":0.9},{"t":2017.47,"m":10.0,"s":-1.4,"w":0.3,"r":-0.8},{"t":2017.49,"m":8.2,"s":-0.8,"w":-0.1,"r":0.6},{"t":2017.51,"m":10.5,"s":-0.1,"w":-0.2,"r":0.0},{"t":2017.53,"m":5.7,"s":-2.2,"w":0.3,"r":1.8},{"t":2017.55,"m":5.1,"s":-0.4,"w":0.0,"r":2.5},{"t":2017.57,"m":5.3,"s":-1.1,"w":-0.3,"r":1.3},{"t":2017.59,"m":7.6,"s":-0.1,"w":0.1,"r":2.1},
{"t":2017.61,"m":5.9,"s":-0.2,"w":0.5,"r":2.1},{"t":2017.63,"m":8.4,"s":-1.4,"w":-0.5,"r":1.3},{"t":2017.65,"m":4.9,"s":-0.2,"w":0.3,"r":2.5},{"t":2017.67,"m":9.6,"s":0.8,"w":0.8,"r":1.8},{"t":2017.69,"m":5.3,"s":-0.5,"w":-0.2,"r":0.0},{"t":2017.71,"m":11.0,"s":-1.1,"w":-0.4,"r":0.6},{"t":2017.73,"m":5.8,"s":1.0,"w":0.7,"r":-0.8},{"t":2017.75,"m":11.5,"s":0.3,"w":0.1,"r":0.9},{"t":2017.77,"m":13.6,"s":1.6,"w":-0.6,"r":-0.6},{"t":2017.79,"m":10.0,"s":0.2,"w":0.4,"r":-1.0},
{"t":2017.81,"m":8.2,"s":1.4,"w":0.5,"r":-1.9},{"t":2017.83,"m":7.8,"s":0.3,"w":-0.5,"r":2.2},{"t":2017.85,"m":8.8,"s":2.7,"w":0.3,"r":1.5},{"t":2017.87,"m":12.5,"s":1.2,"w":0.6,"r":-0.3},{"t":2017.89,"m":10.3,"s":2.0,"w":-0.4,"r":-1.5},{"t":2017.91,"m":13.1,"s":2.9,"w":-0.6,"r":0.7},{"t":2017.93,"m":7.2,"s":1.0,"w":0.5,"r":0.2},{"t":2017.95,"m":6.4,"s":2.8,"w":-0.1,"r":1.1},{"t":2017.97,"m":6.7,"s":2.1,"w":-0.8,"r":-1.4},{"t":2017.99,"m":9.5,"s":2.8,"w":0.2,"r":-0.5},
{"t":2018.01,"m":6.1,"s":2.5,"w":0.3,"r":-0.5},{"t":2018.03,"m":8.6,"s":1.0,"w":-0.7,"r":-1.4},{"t":2018.05,"m":5.1,"s":2.0,"w":0.1,"r":1.1},{"t":2018.07,"m":9.8,"s":2.7,"w":0.5,"r":0.2},{"t":2018.09,"m":4.4,"s":1.1,"w":-0.2,"r":0.7},{"t":2018.11,"m":9.0,"s":0.2,"w":-0.4,"r":-1.5},{"t":2018.13,"m":4.8,"s":2.0,"w":0.4,"r":-0.3},{"t":2018.15,"m":9.4,"s":1.0,"w":0.0,"r":1.5},{"t":2018.17,"m":11.1,"s":2.0,"w":-0.5,"r":2.2},{"t":2018.19,"m":8.2,"s":0.2,"w":0.2,"r":-1.9},
{"t":2018.21,"m":6.7,"s":1.1,"w":0.3,"r":-1.0},{"t":2018.23,"m":6.4,"s":-0.4,"w":-0.4,"r":-0.6},{"t":2018.25,"m":7.2,"s":1.7,"w":0.1,"r":0.9},{"t":2018.27,"m":10.2,"s":-0.2,"w":0.5,"r":-0.8},{"t":2018.29,"m":8.4,"s":0.3,"w":-0.2,"r":0.6},{"t":2018.31,"m":10.7,"s":0.8,"w":-0.4,"r":0.0},{"t":2018.33,"m":5.9,"s":-1.5,"w":0.4,"r":1.8},{"t":2018.35,"m":5.3,"s":0.1,"w":0.0,"r":2.5},{"t":2018.37,"m":5.5,"s":-0.8,"w":-0.4,"r":1.3},{"t":2018.39,"m":7.8,"s":0.1,"w":0.2,"r":2.1},
{"t":2018.41,"m":6.1,"s":-0.2,"w":0.2,"r":2.1},{"t":2018.43,"m":6.7,"s":-1.7,"w":-0.3,"r":1.3},{"t":2018.45,"m":3.9,"s":-0.6,"w":0.1,"r":2.5},{"t":2018.47,"m":7.6,"s":0.1,"w":0.4,"r":1.8},{"t":2018.49,"m":3.4,"s":-1.3,"w":-0.2,"r":0.0},{"t":2018.51,"m":7.0,"s":-2.1,"w":-0.3,"r":0.6},{"t":2018.53,"m":3.7,"s":-0.2,"w":0.3,"r":-0.8},{"t":2018.55,"m":7.3,"s":-1.0,"w":0.0,"r":0.9},{"t":2018.57,"m":8.7,"s":0.1,"w":-0.2,"r":-0.6},{"t":2018.59,"m":6.4,"s":-1.4,"w":0.1,"r":-1.0},
{"t":2018.61,"m":5.2,"s":-0.4,"w":0.1,"r":-1.9},{"t":2018.63,"m":5.0,"s":-1.5,"w":-0.2,"r":2.2},{"t":2018.65,"m":5.6,"s":0.9,"w":0.1,"r":1.5},{"t":2018.67,"m":8.0,"s":-0.7,"w":0.2,"r":-0.3},{"t":2018.69,"m":6.5,"s":0.0,"w":-0.1,"r":-1.5},{"t":2018.71,"m":8.3,"s":0.9,"w":-0.2,"r":0.7},{"t":2018.73,"m":7.3,"s":-1.0,"w":0.2,"r":0.2},{"t":2018.75,"m":6.5,"s":0.9,"w":0.0,"r":1.1},{"t":2018.77,"m":6.8,"s":0.4,"w":-0.4,"r":-1.4},{"t":2018.79,"m":9.7,"s":1.5,"w":0.2,"r":-0.5},
{"t":2018.81,"m":7.5,"s":1.6,"w":0.2,"r":-0.5},{"t":2018.83,"m":10.7,"s":0.4,"w":-0.4,"r":-1.4},{"t":2018.85,"m":6.3,"s":1.7,"w":0.1,"r":1.1},{"t":2018.87,"m":12.2,"s":2.7,"w":0.4,"r":0.2},{"t":2018.89,"m":5.4,"s":1.5,"w":-0.2,"r":0.7},{"t":2018.91,"m":11.2,"s":0.9,"w":-0.3,"r":-1.5},{"t":2018.93,"m":5.9,"s":3.0,"w":0.4,"r":-0.3},{"t":2018.95,"m":11.7,"s":2.2,"w":0.0,"r":1.5},{"t":2018.97,"m":13.8,"s":3.3,"w":-0.5,"r":2.2},{"t":2018.99,"m":10.2,"s":1.5,"w":0.2,"r":-1.9},
{"t":2019.01,"m":8.3,"s":2.3,"w":0.3,"r":-1.0},{"t":2019.03,"m":7.9,"s":0.9,"w":-0.5,"r":-0.6},{"t":2019.05,"m":8.9,"s":3.0,"w":0.2,"r":0.9},{"t":2019.07,"m":12.7,"s":1.2,"w":0.5,"r":-0.8},{"t":2019.09,"m":10.4,"s":1.6,"w":-0.2,"r":0.6},{"t":2019.11,"m":13.3,"s":2.2,"w":-0.4,"r":0.0},{"t":2019.13,"m":7.3,"s":-0.1,"w":0.5,"r":1.8},{"t":2019.15,"m":6.5,"s":1.6,"w":0.0,"r":2.5},{"t":2019.17,"m":4.0,"s":0.8,"w":-0.7,"r":1.3},{"t":2019.19,"m":5.6,"s":1.5,"w":0.3,"r":2.1},
{"t":2019.21,"m":4.4,"s":1.3,"w":0.4,"r":2.1},{"t":2019.23,"m":6.2,"s":-0.3,"w":-0.6,"r":1.3},{"t":2019.25,"m":3.7,"s":0.7,"w":0.2,"r":2.5},{"t":2019.27,"m":7.1,"s":1.3,"w":0.7,"r":1.8},{"t":2019.29,"m":3.2,"s":-0.3,"w":-0.3,"r":0.0},{"t":2019.31,"m":8.8,"s":-1.2,"w":-0.5,"r":0.6},{"t":2019.33,"m":4.6,"s":0.5,"w":0.4,"r":-0.8},{"t":2019.35,"m":9.2,"s":-0.6,"w":0.0,"r":0.9},{"t":2019.37,"m":10.9,"s":0.5,"w":-0.5,"r":-0.6},{"t":2019.39,"m":8.0,"s":-1.3,"w":0.2,"r":-1.0},
{"t":2019.41,"m":6.5,"s":-0.4,"w":0.3,"r":-1.9},{"t":2019.43,"m":6.2,"s":-1.8,"w":-0.4,"r":2.2},{"t":2019.45,"m":7.0,"s":0.4,"w":0.1,"r":1.5},{"t":2019.47,"m":10.0,"s":-1.4,"w":0.5,"r":-0.3},{"t":2019.49,"m":8.2,"s":-0.8,"w":-0.2,"r":-1.5},{"t":2019.51,"m":10.5,"s":-0.1,"w":-0.3,"r":0.7},{"t":2019.53,"m":5.7,"s":-2.2,"w":0.4,"r":0.2},{"t":2019.55,"m":5.1,"s":-0.4,"w":0.0,"r":1.1},{"t":2019.57,"m":5.3,"s":-1.1,"w":-0.5,"r":-1.4},{"t":2019.59,"m":7.6,"s":-0.1,"w":0.2,"r":-0.5},
{"t":2019.61,"m":5.9,"s":-0.2,"w":0.3,"r":-0.5},{"t":2019.63,"m":8.4,"s":-1.4,"w":-0.4,"r":-1.4},{"t":2019.65,"m":4.9,"s":-0.2,"w":0.1,"r":1.1},{"t":2019.67,"m":9.6,"s":0.8,"w":0.5,"r":0.2},{"t":2019.69,"m":4.2,"s":-0.5,"w":-0.2,"r":0.7},{"t":2019.71,"m":8.8,"s":-1.1,"w":-0.3,"r":-1.5},{"t":2019.73,"m":4.6,"s":1.0,"w":0.4,"r":-0.3},{"t":2019.75,"m":9.2,"s":0.3,"w":0.0,"r":1.5},{"t":2019.77,"m":10.9,"s":1.6,"w":-0.5,"r":2.2},{"t":2019.79,"m":8.0,"s":0.2,"w":0.2,"r":-1.9},
{"t":2019.81,"m":6.5,"s":1.4,"w":0.3,"r":-1.0},{"t":2019.83,"m":6.2,"s":0.3,"w":-0.4,"r":-0.6},{"t":2019.85,"m":7.0,"s":2.7,"w":0.1,"r":0.9},{"t":2019.87,"m":10.0,"s":1.2,"w":0.5,"r":-0.8},{"t":2019.89,"m":8.2,"s":2.0,"w":-0.2,"r":0.6},{"t":2019.91,"m":10.5,"s":2.9,"w":-0.3,"r":0.0},{"t":2019.93,"m":5.7,"s":1.0,"w":0.4,"r":1.8},{"t":2019.95,"m":5.1,"s":2.8,"w":0.0,"r":2.5},{"t":2019.97,"m":5.3,"s":2.1,"w":-0.5,"r":1.3},{"t":2019.99,"m":7.6,"s":2.8,"w":0.2,"r":2.1}
]},
"spacing":3,
"vconcat":[
{"spacing":2,"hconcat":[
 {"width":965,"height":107.5,
  "encoding":{"x":{"field":"t","type":"quantitative","scale":{"domain":[2013.507,2020.309],"nice":false,"zero":false},"axis":{"title":null,"labels":false,"ticks":false,"values":[2014,2015,2016,2017,2018,2019,2020],"gridWidth":{"condition":{"test":"datum.value % 2 == 0","value":1.1},"value":0.55}}},
   "y":{"field":"m","type":"quantitative","scale":{"domain":[0.2,19.3],"nice":false,"zero":false},"axis":{"title":null,"values":[2.5,5,7.5,10,12.5,15,17.5],"labelExpr":"datum.value % 5 == 0 ? datum.label : ''","tickOpacity":{"condition":{"test":"datum.value % 5 == 0","value":1},"value":0},"gridWidth":{"condition":{"test":"datum.value % 5 == 0","value":1.1},"value":0.55}}}},
  "layer":[
  {"data":{"values":[{"t":2013.816,"t2":2013.922,"m":9.3,"m2":10.35}]},"mark":{"type":"rect","fill":"#BFBFBF","stroke":"#000000","strokeWidth":0.6},"encoding":{"x2":{"field":"t2"},"y2":{"field":"m2"}}},
  {"data":{"name":"ts"},"mark":{"type":"line","color":"#000000","strokeWidth":1.1},"encoding":{}}
 ]},
 {"width":15,"height":107.5,"view":{"fill":"#D9D9D9","stroke":null},"data":{"values":[{"l":"Mean_wind_speed"}]},"mark":{"type":"text","angle":90,"fontSize":11,"color":"#1A1A1A","font":"Liberation Sans"},"encoding":{"text":{"field":"l"}}}
]},
{"spacing":2,"hconcat":[
 {"width":965,"height":107.5,
  "encoding":{"x":{"field":"t","type":"quantitative","scale":{"domain":[2013.507,2020.309],"nice":false,"zero":false},"axis":{"title":null,"labels":false,"ticks":false,"values":[2014,2015,2016,2017,2018,2019,2020],"gridWidth":{"condition":{"test":"datum.value % 2 == 0","value":1.1},"value":0.55}}},
   "y":{"field":"d","type":"quantitative","scale":{"domain":[6.397,7.553],"nice":false,"zero":false},"axis":{"title":null,"format":".1f","values":[6.45,6.6,6.75,6.9,7.05,7.2,7.35,7.5],"labelExpr":"abs(datum.value*10-round(datum.value*10))<0.01 ? datum.label : ''","tickOpacity":{"condition":{"test":"abs(datum.value*10-round(datum.value*10))<0.01","value":1},"value":0},"gridWidth":{"condition":{"test":"abs(datum.value*10-round(datum.value*10))<0.01","value":1.1},"value":0.55}}}},
  "layer":[
  {"data":{"values":[{"t":2013.816,"t2":2013.922,"d":6.45,"d2":7.5}]},"mark":{"type":"rect","fill":"#BFBFBF","stroke":"#000000","strokeWidth":0.6},"encoding":{"x2":{"field":"t2"},"y2":{"field":"d2"}}},
  {"data":{"name":"trend"},"mark":{"type":"line","color":"#000000","strokeWidth":0.9,"interpolate":"monotone"},"encoding":{}}
 ]},
 {"width":15,"height":107.5,"view":{"fill":"#D9D9D9","stroke":null},"data":{"values":[{"l":"trend"}]},"mark":{"type":"text","angle":90,"fontSize":11,"color":"#1A1A1A","font":"Liberation Sans"},"encoding":{"text":{"field":"l"}}}
]},
{"spacing":2,"hconcat":[
 {"width":965,"height":107.5,
  "encoding":{"x":{"field":"t","type":"quantitative","scale":{"domain":[2013.507,2020.309],"nice":false,"zero":false},"axis":{"title":null,"labels":false,"ticks":false,"values":[2014,2015,2016,2017,2018,2019,2020],"gridWidth":{"condition":{"test":"datum.value % 2 == 0","value":1.1},"value":0.55}}},
   "y":{"field":"s","type":"quantitative","scale":{"domain":[-3.17,4.73],"nice":false,"zero":false},"axis":{"title":null,"format":"d","values":[-3,-2,-1,0,1,2,3,4],"labelExpr":"datum.value % 2 == 0 ? replace(datum.label,'−','-') : ''","tickOpacity":{"condition":{"test":"datum.value % 2 == 0","value":1},"value":0},"gridWidth":{"condition":{"test":"datum.value % 2 == 0","value":1.1},"value":0.55}}}},
  "layer":[
  {"data":{"values":[{"t":2013.816,"t2":2013.922,"s":0.12,"s2":1.17}]},"mark":{"type":"rect","fill":"#BFBFBF","stroke":"#000000","strokeWidth":0.6},"encoding":{"x2":{"field":"t2"},"y2":{"field":"s2"}}},
  {"data":{"name":"ts"},"mark":{"type":"line","color":"#000000","strokeWidth":1.1},"encoding":{}}
 ]},
 {"width":15,"height":107.5,"view":{"fill":"#D9D9D9","stroke":null},"data":{"values":[{"l":"season_year"}]},"mark":{"type":"text","angle":90,"fontSize":11,"color":"#1A1A1A","font":"Liberation Sans"},"encoding":{"text":{"field":"l"}}}
]},
{"spacing":2,"hconcat":[
 {"width":965,"height":107.5,
  "encoding":{"x":{"field":"t","type":"quantitative","scale":{"domain":[2013.507,2020.309],"nice":false,"zero":false},"axis":{"title":null,"labels":false,"ticks":false,"values":[2014,2015,2016,2017,2018,2019,2020],"gridWidth":{"condition":{"test":"datum.value % 2 == 0","value":1.1},"value":0.55}}},
   "y":{"field":"w","type":"quantitative","scale":{"domain":[-2.29,2.86],"nice":false,"zero":false},"axis":{"title":null,"format":"d","values":[-2,-1.5,-1,-0.5,0,0.5,1,1.5,2,2.5],"labelExpr":"datum.value % 1 == 0 ? replace(datum.label,'−','-') : ''","tickOpacity":{"condition":{"test":"datum.value % 1 == 0","value":1},"value":0},"gridWidth":{"condition":{"test":"datum.value % 1 == 0","value":1.1},"value":0.55}}}},
  "layer":[
  {"data":{"values":[{"t":2013.816,"t2":2013.922,"w":-0.32,"w2":0.74}]},"mark":{"type":"rect","fill":"#BFBFBF","stroke":"#000000","strokeWidth":0.6},"encoding":{"x2":{"field":"t2"},"y2":{"field":"w2"}}},
  {"data":{"name":"ts"},"mark":{"type":"line","color":"#000000","strokeWidth":1.1},"encoding":{}}
 ]},
 {"width":15,"height":107.5,"view":{"fill":"#D9D9D9","stroke":null},"data":{"values":[{"l":"season_week"}]},"mark":{"type":"text","angle":90,"fontSize":11,"color":"#1A1A1A","font":"Liberation Sans"},"encoding":{"text":{"field":"l"}}}
]},
{"spacing":2,"hconcat":[
 {"width":965,"height":107.5,
  "encoding":{"x":{"field":"t","type":"quantitative","scale":{"domain":[2013.507,2020.309],"nice":false,"zero":false},"axis":{"title":"Index","format":"d","values":[2014,2015,2016,2017,2018,2019,2020],"labelExpr":"datum.value % 2 == 0 ? datum.label : ''","tickOpacity":{"condition":{"test":"datum.value % 2 == 0","value":1},"value":0},"gridWidth":{"condition":{"test":"datum.value % 2 == 0","value":1.1},"value":0.55},"titleFontSize":13.5,"titleFontWeight":"normal","titleColor":"#000000","titlePadding":3}},
   "y":{"field":"r","type":"quantitative","scale":{"domain":[-7.66,9.06],"nice":false,"zero":false},"axis":{"title":null,"format":"d","values":[-7.5,-5,-2.5,0,2.5,5,7.5],"labelExpr":"datum.value % 5 == 0 ? replace(datum.label,'−','-') : ''","tickOpacity":{"condition":{"test":"datum.value % 5 == 0","value":1},"value":0},"gridWidth":{"condition":{"test":"datum.value % 5 == 0","value":1.1},"value":0.55}}}},
  "layer":[
  {"data":{"values":[{"t":2013.816,"t2":2013.922,"r":0.0,"r2":1.05}]},"mark":{"type":"rect","fill":"#BFBFBF","stroke":"#000000","strokeWidth":0.6},"encoding":{"x2":{"field":"t2"},"y2":{"field":"r2"}}},
  {"data":{"name":"ts"},"mark":{"type":"line","color":"#000000","strokeWidth":1.1},"encoding":{}}
 ]},
 {"width":15,"height":107.5,"view":{"fill":"#D9D9D9","stroke":null},"data":{"values":[{"l":"remainder"}]},"mark":{"type":"text","angle":90,"fontSize":11,"color":"#1A1A1A","font":"Liberation Sans"},"encoding":{"text":{"field":"l"}}}
]}
],
"config":{
 "font":"Liberation Sans",
 "view":{"fill":"#EBEBEB","stroke":null},
 "axis":{"domain":false,"grid":true,"gridColor":"#FFFFFF","tickColor":"#333333","tickSize":3.5,"tickWidth":1,"labelColor":"#4D4D4D","labelFontSize":11.5,"labelPadding":2,"labelOverlap":false,"labelFont":"Liberation Sans","titleFont":"Liberation Sans"},
 "axisY":{"minExtent":26,"maxExtent":26}
}
}
